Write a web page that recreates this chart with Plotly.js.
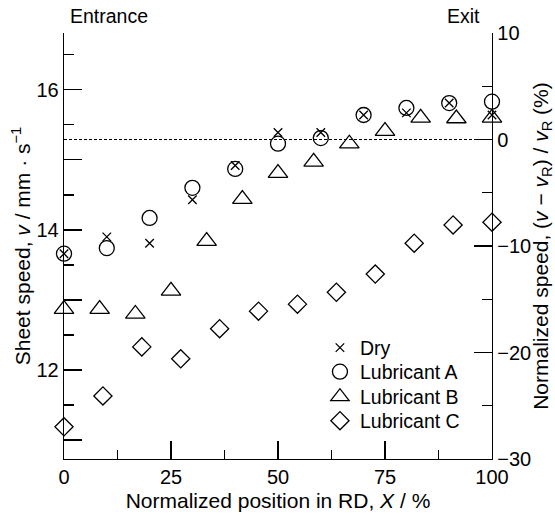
<!DOCTYPE html>
<html><head><meta charset="utf-8">
<script src="https://cdn.plot.ly/plotly-3.0.1.min.js"></script>
<style>html,body{margin:0;padding:0;background:#fff}#c{width:555px;height:517px}</style>
</head><body><div id="c"></div>
<script>
const xDry = [0, 10, 20, 30, 40, 50, 60, 70, 80, 90, 100];
const vDry = [13.66, 13.90, 13.81, 14.43, 14.92, 15.39, 15.39, 15.64, 15.67, 15.81, 15.64];
const xA = [0, 10, 20, 30, 40, 50, 60, 70, 80, 90, 100];
const vA = [13.66, 13.74, 14.17, 14.60, 14.87, 15.23, 15.31, 15.64, 15.74, 15.81, 15.83];
const xB = [0, 8.33, 16.67, 25, 33.33, 41.67, 50, 58.33, 66.67, 75, 83.33, 91.67, 100];
const vB = [12.87, 12.87, 12.80, 13.13, 13.84, 14.44, 14.81, 14.97, 15.23, 15.41, 15.60, 15.59, 15.60];
const xC = [0, 9.09, 18.18, 27.27, 36.36, 45.45, 54.55, 63.64, 72.73, 81.82, 90.91, 100];
const vC = [11.19, 11.63, 12.33, 12.16, 12.59, 12.84, 12.94, 13.11, 13.37, 13.81, 14.07, 14.11];

const seriesNames = ['Dry', 'Lubricant A', 'Lubricant B', 'Lubricant C'];
const xTicks = [0, 25, 50, 75, 100];
const xMinor = [12.5, 37.5, 62.5, 87.5];
const yTicks = [11, 12, 13, 14, 15, 16];
const yTickText = ['', '12', '', '14', '', '16'];
const yMinor = [11.5, 12.5, 13.5, 14.5, 15.5, 16.5];
const y2Ticks = [-30, -20, -10, 0, 10];
const y2Minor = [-25, -15, -5, 5];
const refLevel = 0;

const F = '"Liberation Sans", Arial, Helvetica, sans-serif';
const mk = (sym, size) => ({symbol: sym, size: size, color: 'black', line: {color: 'black', width: 1.3}});
const legendRowsY = [0.2606, 0.2042, 0.1455, 0.0892];
const legendKeys = ['legend', 'legend2', 'legend3', 'legend4'];

const traces = [
  {x: xDry, y: vDry, name: seriesNames[0], legend: legendKeys[0], mode: 'markers', marker: mk('x-thin-open', 8.5), cliponaxis: false},
  {x: xA, y: vA, name: seriesNames[1], legend: legendKeys[1], mode: 'markers', marker: mk('circle-open', 15), cliponaxis: false},
  {x: xB, y: vB, name: seriesNames[2], legend: legendKeys[2], mode: 'markers', marker: mk('triangle-up-open', 17), cliponaxis: false},
  {x: xC, y: vC, name: seriesNames[3], legend: legendKeys[3], mode: 'markers', marker: mk('diamond-open', 14), cliponaxis: false}
];

const axCommon = {showline: true, linecolor: 'black', linewidth: 1.3, ticks: 'inside', tickcolor: 'black', tickwidth: 1.3, showgrid: false, zeroline: false};

const layout = {
  width: 555, height: 517,
  margin: {l: 64, r: 63, t: 33, b: 58},
  paper_bgcolor: 'white', plot_bgcolor: 'white',
  font: {family: F, size: 20, color: 'black'},
  showlegend: true,
  xaxis: Object.assign({}, axCommon, {
    range: [0, 100], tickmode: 'array', tickvals: xTicks, ticklen: 18,
    minor: {tickmode: 'array', tickvals: xMinor, ticklen: 9, ticks: 'inside', tickcolor: 'black', tickwidth: 1.3},
    tickfont: {size: 20},
    title: {text: 'Normalized position in RD, <i>X</i> / %', font: {size: 21}, standoff: 6}
  }),
  xaxis2: Object.assign({}, axCommon, {
    overlaying: 'x', side: 'top', anchor: 'y', range: [0, 100], tickmode: 'linear', tick0: 0, dtick: 12.5, ticklen: 3, showticklabels: false
  }),
  yaxis: Object.assign({}, axCommon, {
    range: [10.73, 16.81], tickmode: 'array', tickvals: yTicks, ticktext: yTickText, ticklen: 18,
    minor: {tickmode: 'array', tickvals: yMinor, ticklen: 10, ticks: 'inside', tickcolor: 'black', tickwidth: 1.3},
    tickfont: {size: 20},
    title: {text: 'Sheet speed, <i>v</i> / mm · s<sup>−1</sup>', font: {size: 21}, standoff: 0}
  }),
  yaxis2: Object.assign({}, axCommon, {
    overlaying: 'y', side: 'right', anchor: 'x', range: [-30, 10], tickmode: 'array', tickvals: y2Ticks, ticklen: 18,
    minor: {tickmode: 'array', tickvals: y2Minor, ticklen: 10, ticks: 'inside', tickcolor: 'black', tickwidth: 1.3},
    tickfont: {size: 20},
    title: {text: 'Normalized speed, (<i>v</i> − <i>v</i><sub>R</sub>) / <i>v</i><sub>R</sub> (%)', font: {size: 21}, standoff: 6}
  }),
  shapes: [{type: 'line', xref: 'x', yref: 'y2', x0: 0, x1: 100, y0: refLevel, y1: refLevel, line: {color: 'black', width: 1, dash: '3px,2px'}}],
  annotations: [
    {text: 'Entrance', xref: 'paper', yref: 'paper', x: 0.009, y: 1.04, xanchor: 'left', yanchor: 'middle', showarrow: false, font: {size: 19.5}},
    {text: 'Exit', xref: 'paper', yref: 'paper', x: 0.977, y: 1.04, xanchor: 'right', yanchor: 'middle', showarrow: false, font: {size: 19.5}}
  ]
};
legendKeys.forEach((k, i) => {
  layout[k] = {x: 0.598, y: legendRowsY[i], xanchor: 'left', yanchor: 'middle', bgcolor: 'rgba(0,0,0,0)', borderwidth: 0, font: {size: 19.5, family: F, color: 'black'}};
});

Plotly.newPlot('c', traces, layout, {displayModeBar: false, staticPlot: true});
</script></body></html>
